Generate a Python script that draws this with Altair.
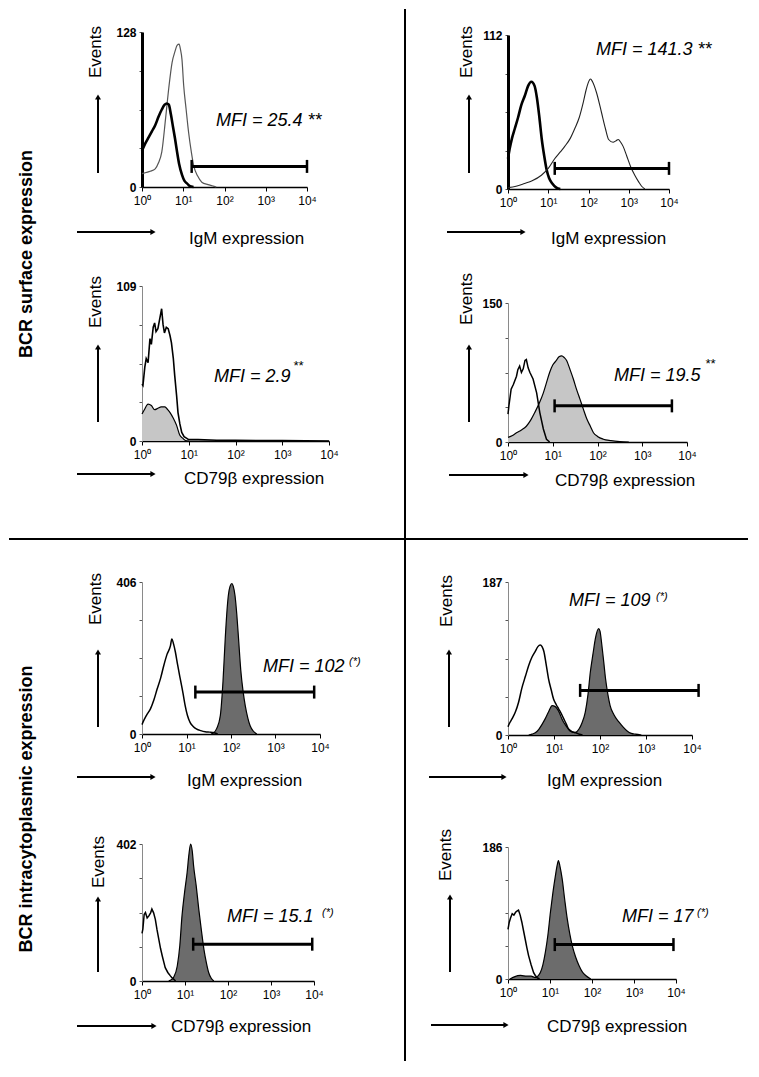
import altair as alt
import pandas as pd

FONT = "Liberation Sans"

# ---------------- data (x read in decades = log10 of fluorescence, y = events) ----------------
# Panel 1: surface IgM, left
p1_igm_log = [0, 0.1, 0.2, 0.32, 0.4, 0.48, 0.57, 0.65, 0.73, 0.8, 0.85, 0.9, 0.93, 0.97, 1.01, 1.07, 1.13, 1.2, 1.25, 1.35, 1.45, 1.6, 1.7, 1.8]
p1_igm_cnt = [11, 12, 13, 15, 20, 29, 56, 82, 103, 112, 117, 118, 114, 105, 84, 64, 45, 28, 18, 9, 4, 2, 1, 0]
p1_ctl_log = [0, 0.08, 0.16, 0.24, 0.32, 0.4, 0.48, 0.55, 0.6, 0.65, 0.7, 0.75, 0.8, 0.85, 0.9, 0.97, 1.03, 1.09, 1.15, 1.25]
p1_ctl_cnt = [30, 36, 41, 46, 51, 58, 64, 68, 69, 68, 60, 50, 40, 29, 19, 10, 5, 3, 1, 0]

# Panel 2: surface IgM, right
p2_ctl_log = [0, 0.04, 0.1, 0.17, 0.25, 0.33, 0.42, 0.5, 0.58, 0.66, 0.72, 0.78, 0.84, 0.9, 0.96, 1.02, 1.1, 1.2, 1.3]
p2_ctl_cnt = [22, 29, 37, 44, 52, 61, 68, 75, 78, 75, 66, 52, 36, 24, 14, 8, 4, 1, 0]
p2_igm_log = [0, 0.2, 0.41, 0.6, 0.83, 1.0, 1.16, 1.3, 1.41, 1.55, 1.66, 1.77, 1.87, 1.94, 1.99, 2.05, 2.1, 2.2, 2.32, 2.42, 2.5, 2.61, 2.68, 2.74, 2.8, 2.86, 2.95, 3.05, 3.15, 3.25, 3.32, 3.4]
p2_igm_cnt = [1, 2, 4, 6, 10, 15, 22, 27, 31, 37, 44, 52, 63, 72, 77, 80, 78, 70, 56, 44, 36, 34, 35, 36, 34, 31, 24, 16, 10, 5, 2, 0]

# Panel 3: surface CD79b, left
p3_ctl_log = [0, 0.02, 0.06, 0.09, 0.13, 0.17, 0.2, 0.24, 0.27, 0.3, 0.34, 0.38, 0.42, 0.45, 0.48, 0.52, 0.56, 0.6, 0.63, 0.67, 0.7, 0.74, 0.77, 0.81, 0.85, 0.9, 0.95, 1.0, 1.2, 1.6, 2.0, 2.5, 3.0, 3.5, 4.0]
p3_ctl_cnt = [40, 39, 52, 58, 55, 72, 68, 80, 83, 77, 79, 86, 93, 82, 76, 80, 79, 74, 69, 58, 46, 32, 20, 12, 6, 3, 2, 1, 1, 0.5, 0.5, 0.3, 0.3, 0.2, 0]
p3_cd_log = [0, 0.05, 0.13, 0.2, 0.27, 0.34, 0.41, 0.49, 0.55, 0.6, 0.67, 0.74, 0.81, 0.87, 0.92, 1.0]
p3_cd_cnt = [19, 22, 26, 25, 22, 23, 24, 24, 22, 20, 16, 11, 4, 2, 0.5, 0]

# Panel 4: surface CD79b, right
p4_ctl_log = [0, 0.02, 0.07, 0.12, 0.19, 0.22, 0.26, 0.3, 0.34, 0.38, 0.41, 0.45, 0.49, 0.56, 0.64, 0.71, 0.79, 0.86, 0.93]
p4_ctl_cnt = [30, 39, 57, 62, 71, 78, 82, 75, 79, 88, 89, 80, 75, 68, 53, 32, 14, 3, 0]
p4_cd_log = [0, 0.1, 0.19, 0.3, 0.41, 0.5, 0.6, 0.7, 0.79, 0.86, 0.93, 1.0, 1.08, 1.14, 1.2, 1.26, 1.31, 1.38, 1.46, 1.53, 1.61, 1.68, 1.76, 1.84, 1.91, 2.0, 2.13, 2.3, 2.5, 2.7]
p4_cd_cnt = [5, 7, 10, 13, 17, 23, 32, 42, 53, 64, 75, 83, 88, 92, 93, 91, 88, 79, 68, 57, 46, 36, 25, 17, 10, 6, 3, 1.5, 0.5, 0]

# Panel 5: intracytoplasmic IgM, left
p5_ctl_log = [0, 0.02, 0.1, 0.19, 0.27, 0.34, 0.42, 0.49, 0.56, 0.64, 0.67, 0.71, 0.75, 0.8, 0.86, 0.92, 0.97, 1.02, 1.08, 1.15, 1.23, 1.32, 1.42, 1.52, 1.6, 1.7]
p5_ctl_cnt = [25, 31, 50, 67, 92, 120, 150, 183, 212, 236, 254, 240, 219, 185, 147, 110, 76, 50, 31, 20, 13, 9, 6, 5, 4, 0]
p5_igm_log = [1.55, 1.61, 1.68, 1.76, 1.82, 1.87, 1.91, 1.94, 1.98, 2.02, 2.05, 2.09, 2.13, 2.17, 2.22, 2.27, 2.32, 2.38, 2.43, 2.5, 2.58]
p5_igm_cnt = [0, 3, 15, 49, 140, 254, 330, 370, 395, 402, 395, 370, 320, 254, 170, 115, 76, 42, 22, 8, 0]

# Panel 6: intracytoplasmic IgM, right
p6_ctl_log = [0, 0.03, 0.09, 0.16, 0.23, 0.3, 0.38, 0.45, 0.52, 0.59, 0.65, 0.7, 0.74, 0.78, 0.83, 0.88, 0.94, 0.99, 1.05, 1.1, 1.16, 1.21, 1.27, 1.32, 1.39, 1.46, 1.55, 1.62]
p6_ctl_cnt = [10, 14, 20, 28, 40, 57, 72, 85, 95, 102, 108, 110, 108, 102, 86, 69, 55, 44, 37, 32, 26, 20, 13, 7, 4, 3, 1, 0]
p6_igm_log = [0.45, 0.52, 0.6, 0.67, 0.74, 0.81, 0.88, 0.96, 1.02, 1.07, 1.12, 1.17, 1.25, 1.32, 1.39, 1.46, 1.54, 1.61, 1.68, 1.74, 1.79, 1.85, 1.9, 1.97, 2.0, 2.04, 2.08, 2.12, 2.17, 2.22, 2.3, 2.41, 2.5, 2.59, 2.68, 2.77, 2.9]
p6_igm_cnt = [0, 1, 3, 7, 13, 20, 28, 36, 35, 32, 27, 20, 12, 7, 4, 3, 7, 15, 28, 50, 77, 100, 118, 130, 127, 110, 90, 69, 50, 36, 25, 16, 10, 5, 2, 1, 0]

# Panel 7: intracytoplasmic CD79b, left
p7_ctl_log = [0, 0.02, 0.05, 0.08, 0.12, 0.16, 0.2, 0.23, 0.27, 0.31, 0.35, 0.39, 0.43, 0.47, 0.51, 0.54, 0.6, 0.66, 0.7, 0.74, 0.78]
p7_ctl_cnt = [140, 152, 195, 201, 185, 191, 200, 211, 200, 181, 150, 123, 96, 74, 54, 39, 25, 15, 9, 5, 0]
p7_cd_log = [0.62, 0.66, 0.74, 0.82, 0.88, 0.93, 0.99, 1.05, 1.09, 1.13, 1.17, 1.2, 1.26, 1.32, 1.38, 1.44, 1.5, 1.55, 1.61, 1.67]
p7_cd_cnt = [0, 2, 12, 44, 105, 191, 260, 319, 370, 402, 380, 338, 280, 211, 150, 93, 52, 25, 8, 0]

# Panel 8: intracytoplasmic CD79b, right
p8_ctl_log = [0, 0.03, 0.06, 0.1, 0.14, 0.18, 0.22, 0.25, 0.29, 0.33, 0.37, 0.41, 0.45, 0.49, 0.55, 0.61, 0.65, 0.69, 0.75]
p8_ctl_cnt = [70, 80, 86, 92, 90, 94, 96, 97, 90, 80, 68, 56, 44, 33, 20, 9, 5, 2, 0]
p8_cd_log = [0.05, 0.15, 0.3, 0.45, 0.55, 0.65, 0.71, 0.77, 0.83, 0.89, 0.95, 1.01, 1.07, 1.13, 1.17, 1.2, 1.24, 1.29, 1.35, 1.41, 1.47, 1.53, 1.61, 1.69, 1.77, 1.85, 1.97]
p8_cd_cnt = [0, 3, 5, 4, 4, 2, 4, 9, 20, 38, 62, 94, 122, 146, 160, 167, 158, 141, 112, 85, 64, 47, 31, 19, 10, 5, 0]

# gates (start, end, height) and y maxima
gates = [(16, 10000, 17), (14.5, 10000, 15), None, (11, 4600, 39),
         (15.8, 7400, 112), (37, 13900, 54.5), (15.5, 9100, 108), (13, 8700, 48.5)]
ymaxes = [128, 112, 109, 150, 406, 187, 402, 186]
mfi_main = ["MFI = 25.4 **", "MFI = 141.3 **", "MFI = 2.9", "MFI = 19.5",
            "MFI = 102", "MFI = 109", "MFI = 15.1", "MFI = 17"]
mfi_sup = [None, None, "**", "**", "(*)", "(*)", "(*)", "(*)"]
xlabels = ["IgM expression", "IgM expression", "CD79\u03b2 expression", "CD79\u03b2 expression",
           "IgM expression", "IgM expression", "CD79\u03b2 expression", "CD79\u03b2 expression"]
section_labels = ["BCR surface expression", "BCR intracytoplasmic expression"]

# ---------------- layout (page pixel positions) ----------------
COL_X = [143, 509]
ROW_Y = [33, 230, 483, 776]
ROW_SP = 40
COL_SP = 179

LIGHT = "#c6c6c6"
DARK = "#6c6c6c"

layout = [
    dict(width=165, top=33, bottom=188, thick=True, events=(97, 53), up=(99, 174, 95), right=(233, 78, 157),
         xlab=(190, 240), mfi=(217, 122), sup=None),
    dict(width=161, top=36, bottom=190, thick=True, events=(468, 53), up=(470, 174, 95), right=(233, 448, 527),
         xlab=(552, 240), mfi=(597, 51), sup=None),
    dict(width=187, top=287, bottom=442, thick=False, events=(97, 303), up=(99, 423, 345), right=(475, 78, 157),
         xlab=(185, 480), mfi=(215, 378), sup=(294, 367)),
    dict(width=179, top=304, bottom=443, thick=False, events=(468, 300), up=(470, 423, 345), right=(476, 450, 530),
         xlab=(556, 482), mfi=(615, 377), sup=(706, 365)),
    dict(width=178, top=583, bottom=735, thick=False, events=(97, 600), up=(99, 728, 650), right=(778, 78, 157),
         xlab=(188, 782), mfi=(264, 668), sup=(350, 663)),
    dict(width=184, top=583, bottom=736, thick=False, events=(448, 602), up=(450, 728, 650), right=(778, 430, 508),
         xlab=(548, 782), mfi=(570, 602), sup=(657, 598)),
    dict(width=172, top=845, bottom=982, thick=False, events=(100, 863), up=(99, 973, 897), right=(1027, 78, 158),
         xlab=(172, 1028), mfi=(228, 918), sup=(323, 914)),
    dict(width=168, top=848, bottom=980, thick=False, events=(447, 856), up=(451, 973, 895), right=(1026, 432, 510),
         xlab=(548, 1028), mfi=(623, 918), sup=(698, 914)),
]

curves = [
    [("line", p1_igm_log, p1_igm_cnt, "#555555", 1.2, "monotone"), ("line", p1_ctl_log, p1_ctl_cnt, "black", 2.6, "monotone")],
    [("line", p2_ctl_log, p2_ctl_cnt, "black", 2.6, "monotone"), ("line", p2_igm_log, p2_igm_cnt, "#222222", 1.1, "monotone")],
    [("area", p3_cd_log, p3_cd_cnt, LIGHT, 1.2, "monotone"), ("line", p3_ctl_log, p3_ctl_cnt, "black", 1.6, "linear")],
    [("area", p4_cd_log, p4_cd_cnt, LIGHT, 1.2, "monotone"), ("line", p4_ctl_log, p4_ctl_cnt, "black", 1.5, "linear")],
    [("area", p5_igm_log, p5_igm_cnt, DARK, 1.2, "monotone"), ("line", p5_ctl_log, p5_ctl_cnt, "black", 1.5, "monotone")],
    [("area", p6_igm_log, p6_igm_cnt, DARK, 1.2, "monotone"), ("line", p6_ctl_log, p6_ctl_cnt, "black", 1.5, "monotone")],
    [("area", p7_cd_log, p7_cd_cnt, DARK, 1.2, "monotone"), ("line", p7_ctl_log, p7_ctl_cnt, "black", 1.5, "linear")],
    [("area", p8_cd_log, p8_cd_cnt, DARK, 1.2, "monotone"), ("line", p8_ctl_log, p8_ctl_cnt, "black", 1.5, "linear")],
]

DUMMY = pd.DataFrame({"d": [0]})


def vrule(x, y1, y2, w=2.0):
    return alt.Chart(DUMMY).mark_rule(color="black", strokeWidth=w).encode(
        x=alt.value(x), y=alt.value(y1), y2=alt.value(y2))


def hrule(y, x1, x2, w=2.0):
    return alt.Chart(DUMMY).mark_rule(color="black", strokeWidth=w).encode(
        x=alt.value(x1), x2=alt.value(x2), y=alt.value(y))


def tri(x, y, shape, size=40):
    return alt.Chart(DUMMY).mark_point(shape=shape, filled=True, size=size, color="black", opacity=1,
                                       strokeWidth=0).encode(x=alt.value(x), y=alt.value(y))


def label(x, y, text, **kw):
    return alt.Chart(DUMMY).mark_text(font=FONT, color="black", **kw).encode(
        x=alt.value(x), y=alt.value(y), text=alt.value(text))


LABEL_EXPR_X = "'10' + ['\u2070','\u00b9','\u00b2','\u00b3','\u2074'][round(log(datum.value)/LN10)]"

panels = []
for i, L in enumerate(layout):
    row, col = i // 2, i % 2
    ox, oy = COL_X[col], ROW_Y[row]
    h = L["bottom"] - oy
    ymax = ymaxes[i]

    xscale = alt.Scale(type="log", domain=[1, 10000], nice=False)
    yscale = alt.Scale(domain=[0, ymax], range=[L["bottom"] - oy, L["top"] - oy], nice=False, zero=True)
    xaxis = alt.Axis(values=[1, 10, 100, 1000, 10000], labelExpr=LABEL_EXPR_X, title=None, grid=False,
                     domainColor="black", domainWidth=1.5, tickColor="black", tickSize=4, tickWidth=1,
                     labelFont=FONT, labelFontSize=12, labelColor="black", labelPadding=4,
                     labelFlush=False, labelOverlap=False)
    yaxis = alt.Axis(values=[0, ymax / 4, ymax / 2, 3 * ymax / 4, ymax],
                     labelExpr=f"(datum.value == 0 || datum.value == {ymax}) ? datum.label : ''",
                     title=None, grid=False,
                     domainColor="black" if L["thick"] else "#8a8a8a",
                     domainWidth=3 if L["thick"] else 1,
                     tickColor="#555555", tickSize=3, tickWidth=1,
                     labelFont=FONT, labelFontSize=12, labelFontWeight="bold", labelColor="black",
                     labelPadding=3, labelOverlap=False, labelFlush=False)
    X = alt.X("x:Q", scale=xscale, axis=xaxis)
    Y = alt.Y("y:Q", scale=yscale, axis=yaxis)

    layers = []
    for kind, lg, cnt, color, sw, interp in curves[i]:
        df = pd.DataFrame({"x": [10 ** v for v in lg], "y": cnt})
        if kind == "area":
            layers.append(alt.Chart(df).mark_area(color=color, opacity=1, interpolate=interp,
                                                  line={"color": "black", "strokeWidth": sw}).encode(x=X, y=Y))
        else:
            layers.append(alt.Chart(df).mark_line(color=color, strokeWidth=sw,
                                                  interpolate=interp).encode(x=X, y=Y))

    g = gates[i]
    if g is not None:
        gdf = pd.DataFrame({"x": [g[0]], "x2": [g[1]], "y": [g[2]]})
        layers.append(alt.Chart(gdf).mark_rule(color="black", strokeWidth=3).encode(x=X, x2="x2:Q", y=Y))
        cdf = pd.DataFrame({"x": [g[0], g[1]], "y": [g[2], g[2]]})
        layers.append(alt.Chart(cdf).mark_tick(orient="vertical", color="black", size=13, thickness=2.5,
                                               opacity=1).encode(x=X, y=Y))

    # decorations (pixel positions relative to this cell)
    ex, ey = L["events"]
    layers.append(label(ex - ox, ey - oy, "Events", fontSize=17, angle=270, align="center", baseline="middle"))
    ax, ab, at = L["up"]
    layers.append(vrule(ax - ox, ab - oy, at + 5 - oy))
    layers.append(tri(ax - ox, at + 3 - oy, "triangle-up", 36))
    ry, rx1, rx2 = L["right"]
    layers.append(hrule(ry - oy, rx1 - ox, rx2 - 5 - ox))
    layers.append(tri(rx2 - 3 - ox, ry - oy, "triangle-right", 36))
    lx, ly = L["xlab"]
    layers.append(label(lx - ox, ly - oy, xlabels[i], fontSize=17, align="left", baseline="middle"))
    mx, my = L["mfi"]
    layers.append(label(mx - ox, my - oy, mfi_main[i], fontSize=18, fontStyle="italic",
                        align="left", baseline="middle"))
    if mfi_sup[i] is not None:
        sx, sy = L["sup"]
        layers.append(label(sx - ox, sy - oy, mfi_sup[i], fontSize=11 if mfi_sup[i] == "(*)" else 13,
                            fontStyle="italic", align="left", baseline="middle"))

    if i == 0:
        # global dividers and section titles, placed relative to the first cell
        layers.append(vrule(406 - ox, 9 + 1 - oy, 1062 - oy))
        layers.append(hrule(540 - oy, 9 + 1 - ox, 749 - ox))
        layers.append(label(28 - ox, 255 - oy, section_labels[0], fontSize=18, fontWeight="bold",
                            angle=270, align="center", baseline="middle"))
        layers.append(label(28 - ox, 810 - oy, section_labels[1], fontSize=18, fontWeight="bold",
                            angle=270, align="center", baseline="middle"))

    panels.append(alt.layer(*layers).properties(width=L["width"], height=h))

chart = alt.concat(*panels, columns=2, spacing=alt.RowColnumber(row=ROW_SP, column=COL_SP),
                   bounds="flush", align="each").properties(padding=0).configure_view(stroke=None)

chart.save("out.html", embed_options={"renderer": "svg", "actions": False})
